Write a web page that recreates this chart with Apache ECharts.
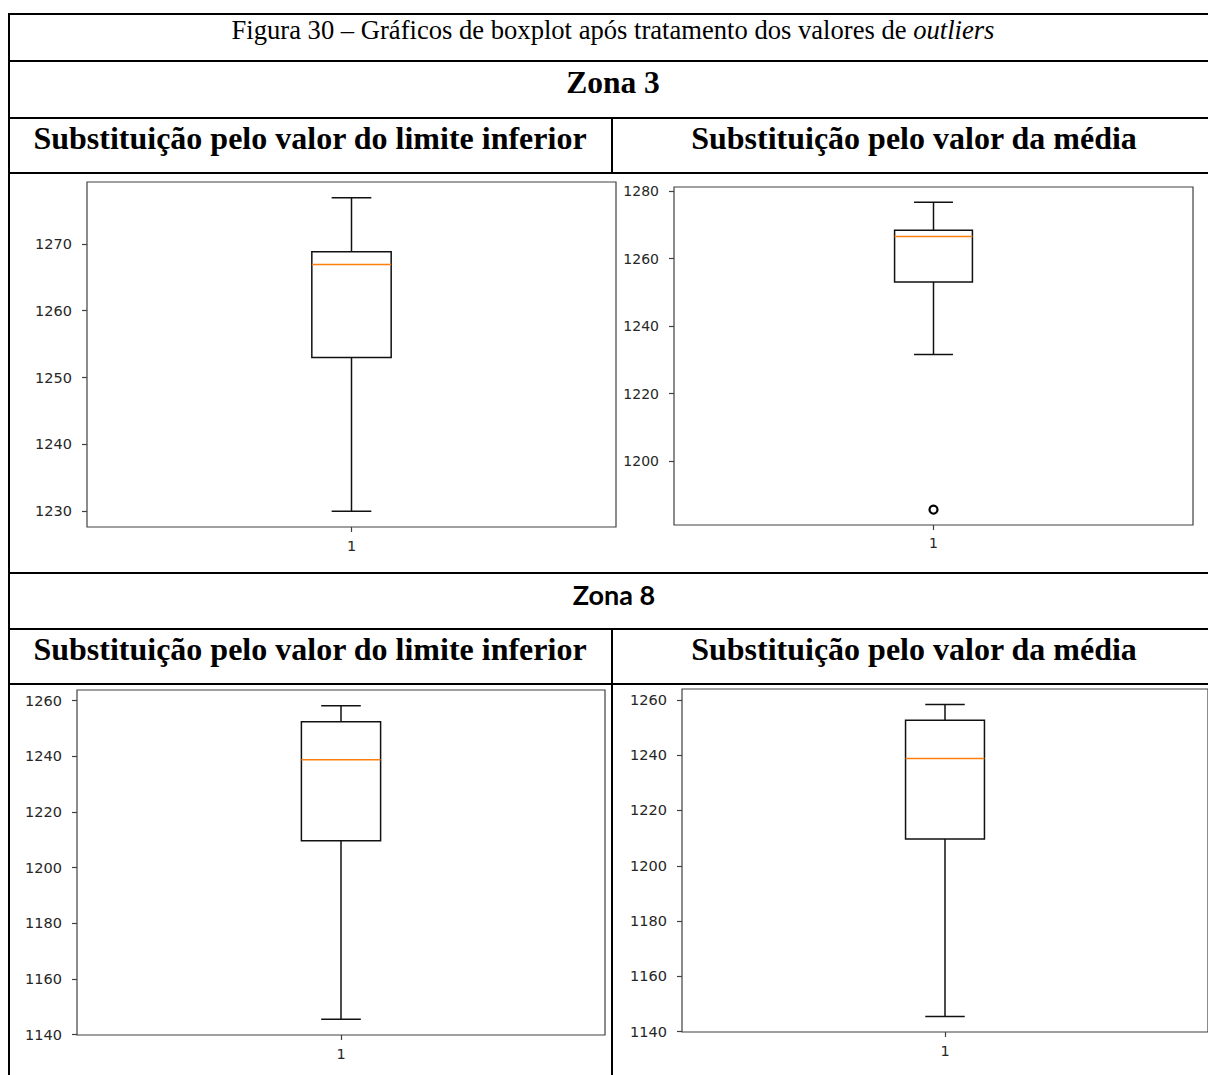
<!DOCTYPE html>
<html lang="pt">
<head>
<meta charset="utf-8">
<title>Figura 30 – Gráficos de boxplot após tratamento dos valores de outliers</title>
<script src="https://cdn.jsdelivr.net/npm/echarts@6/dist/echarts.min.js"></script>
<style>
  html, body { margin: 0; padding: 0; background: #fff; }
  #chart { width: 1208px; height: 1075px; }
</style>
</head>
<body>
<div id="chart"></div>
<script>
// Categoria única do eixo x de cada boxplot
const categorias = ['1'];

// Resumo de cada caixa: [mínimo, Q1, mediana, Q3, máximo]
const zona3LimInf = [1230.0, 1253.0, 1266.9, 1268.8, 1276.9];
const zona3Media = [1231.6, 1253.1, 1266.6, 1268.4, 1276.7];
const zona8LimInf = [1145.5, 1209.7, 1238.8, 1252.4, 1258.2];
const zona8Media = [1145.5, 1209.7, 1238.8, 1252.6, 1258.3];

// Pontos fora dos bigodes
const zona3LimInfOutliers = [];
const zona3MediaOutliers = [1185.6];
const zona8LimInfOutliers = [];
const zona8MediaOutliers = [];

// Marcas do eixo y
const ticksZona3LimInf = [1230, 1240, 1250, 1260, 1270];
const ticksZona3Media = [1200, 1220, 1240, 1260, 1280];
const ticksZona8 = [1140, 1160, 1180, 1200, 1220, 1240, 1260];

// Textos da tabela
const tituloFigura = 'Figura 30 – Gráficos de boxplot após tratamento dos valores de ';
const tituloFiguraItalico = 'outliers';
const zonas = ['Zona 3', 'Zona 8'];
const subtitulos = ['Substituição pelo valor do limite inferior', 'Substituição pelo valor da média'];

// Limites do eixo y com 5% de folga, como no matplotlib
function faixaY(caixa, outliers) {
  const vals = caixa.concat(outliers);
  const lo = Math.min(...vals), hi = Math.max(...vals);
  const d = (hi - lo) * 0.05;
  return [lo - d, hi + d];
}

const paineis = [
  { caixa: zona3LimInf, outliers: zona3LimInfOutliers, ticks: ticksZona3LimInf,
    grid: { left: 87, top: 182, width: 529, height: 345 }, fonte: 14.5 },
  { caixa: zona3Media, outliers: zona3MediaOutliers, ticks: ticksZona3Media,
    grid: { left: 674, top: 187, width: 519, height: 338 }, fonte: 14 },
  { caixa: zona8LimInf, outliers: zona8LimInfOutliers, ticks: ticksZona8,
    grid: { left: 77, top: 690, width: 528, height: 345 }, fonte: 14.5 },
  { caixa: zona8Media, outliers: zona8MediaOutliers, ticks: ticksZona8,
    grid: { left: 682, top: 689, width: 526, height: 343 }, fonte: 14.5 }
];

const corEixo = '#404040';
const corTexto = '#262626';

function desenhaCaixa(params, api) {
  const cat = api.value(0);
  const py = v => api.coord([cat, v])[1];
  const cx = api.coord([cat, api.value(3)])[0];
  const banda = api.size([1, 0])[0];
  const meia = banda * 0.075;
  const cap = meia / 2;
  const yMin = py(api.value(1)), yQ1 = py(api.value(2)), yMed = py(api.value(3));
  const yQ3 = py(api.value(4)), yMax = py(api.value(5));
  const traco = { stroke: '#111', lineWidth: 1.5, fill: null };
  return {
    type: 'group',
    children: [
      { type: 'line', shape: { x1: cx, y1: yQ1, x2: cx, y2: yMin }, style: traco },
      { type: 'line', shape: { x1: cx, y1: yQ3, x2: cx, y2: yMax }, style: traco },
      { type: 'line', shape: { x1: cx - cap, y1: yMin, x2: cx + cap, y2: yMin }, style: traco },
      { type: 'line', shape: { x1: cx - cap, y1: yMax, x2: cx + cap, y2: yMax }, style: traco },
      { type: 'rect', shape: { x: cx - meia, y: yQ3, width: 2 * meia, height: yQ1 - yQ3 },
        style: { stroke: '#111', lineWidth: 1.5, fill: 'none' } },
      { type: 'line', shape: { x1: cx - meia, y1: yMed, x2: cx + meia, y2: yMed },
        style: { stroke: '#ff7f0e', lineWidth: 1.5 } }
    ]
  };
}

const grids = [], xAxes = [], yAxes = [], series = [];
paineis.forEach((p, i) => {
  const [yMin, yMax] = faixaY(p.caixa, p.outliers);
  grids.push(Object.assign({ show: true, borderColor: corEixo, borderWidth: 1.2,
    backgroundColor: '#fff', containLabel: false }, p.grid));
  xAxes.push({
    type: 'category', gridIndex: i, data: categorias, boundaryGap: true,
    axisLine: { show: false },
    axisTick: { show: true, alignWithLabel: true, length: 5, lineStyle: { color: corEixo, width: 1.2 } },
    axisLabel: { color: corTexto, fontFamily: 'DejaVu Sans', fontSize: p.fonte, margin: 11 },
    splitLine: { show: false }
  });
  yAxes.push({
    type: 'value', gridIndex: i, min: yMin, max: yMax, scale: true,
    axisLine: { show: false },
    axisTick: { show: true, length: 5, customValues: p.ticks, lineStyle: { color: corEixo, width: 1.2 } },
    axisLabel: { color: corTexto, fontFamily: 'DejaVu Sans', fontSize: p.fonte, margin: 15,
      customValues: p.ticks, formatter: v => String(v) },
    splitLine: { show: false }
  });
  series.push({
    type: 'custom', xAxisIndex: i, yAxisIndex: i, renderItem: desenhaCaixa, clip: false,
    encode: { x: 0, y: [1, 2, 3, 4, 5] },
    data: [[0].concat(p.caixa)], silent: true
  });
  if (p.outliers.length) {
    series.push({
      type: 'scatter', xAxisIndex: i, yAxisIndex: i, silent: true,
      symbol: 'circle', symbolSize: 8,
      itemStyle: { color: '#fff', borderColor: '#000', borderWidth: 2.2, opacity: 1 },
      data: p.outliers.map(v => [0, v])
    });
  }
});

// Moldura da tabela
const preto = { stroke: '#000', lineWidth: 2 };
const linhasH = [14, 61, 118, 173, 573, 629, 684];
const graficos = [];
linhasH.forEach(y => graficos.push({ type: 'line', shape: { x1: 8, y1: y, x2: 1212, y2: y }, style: preto, z: 10 }));
graficos.push({ type: 'line', shape: { x1: 9, y1: 13, x2: 9, y2: 1080 }, style: preto, z: 10 });
[[118, 173], [629, 684], [684, 1080]].forEach(([a, b]) =>
  graficos.push({ type: 'line', shape: { x1: 612, y1: a, x2: 612, y2: b }, style: preto, z: 10 }));

const serif = 'Liberation Serif';
graficos.push({
  type: 'text', z: 10,
  style: {
    text: tituloFigura + '{i|' + tituloFiguraItalico + '}',
    x: 613, y: 30, align: 'center', verticalAlign: 'middle',
    fontFamily: serif, fontSize: 26.6, fill: '#000',
    rich: { i: { fontFamily: serif, fontSize: 26.6, fontStyle: 'italic', fill: '#000' } }
  }
});
graficos.push({ type: 'text', z: 10, style: { text: zonas[0], x: 613, y: 82, align: 'center', verticalAlign: 'middle',
  fontFamily: serif, fontWeight: 'bold', fontSize: 31.5, fill: '#000' } });
graficos.push({ type: 'text', z: 10, style: { text: zonas[1], x: 614, y: 594, align: 'center', verticalAlign: 'middle',
  fontFamily: 'Lato', fontWeight: 'bold', fontSize: 27, fill: '#000' } });
[138, 649].forEach(y => {
  graficos.push({ type: 'text', z: 10, style: { text: subtitulos[0], x: 310, y: y, align: 'center', verticalAlign: 'middle',
    fontFamily: serif, fontWeight: 'bold', fontSize: 32, fill: '#000' } });
  graficos.push({ type: 'text', z: 10, style: { text: subtitulos[1], x: 914, y: y, align: 'center', verticalAlign: 'middle',
    fontFamily: serif, fontWeight: 'bold', fontSize: 32, fill: '#000' } });
});

const chart = echarts.init(document.getElementById('chart'), null, { renderer: 'svg' });
chart.setOption({
  animation: false,
  backgroundColor: '#fff',
  grid: grids,
  xAxis: xAxes,
  yAxis: yAxes,
  series: series,
  graphic: { elements: graficos }
});
</script>
</body>
</html>
